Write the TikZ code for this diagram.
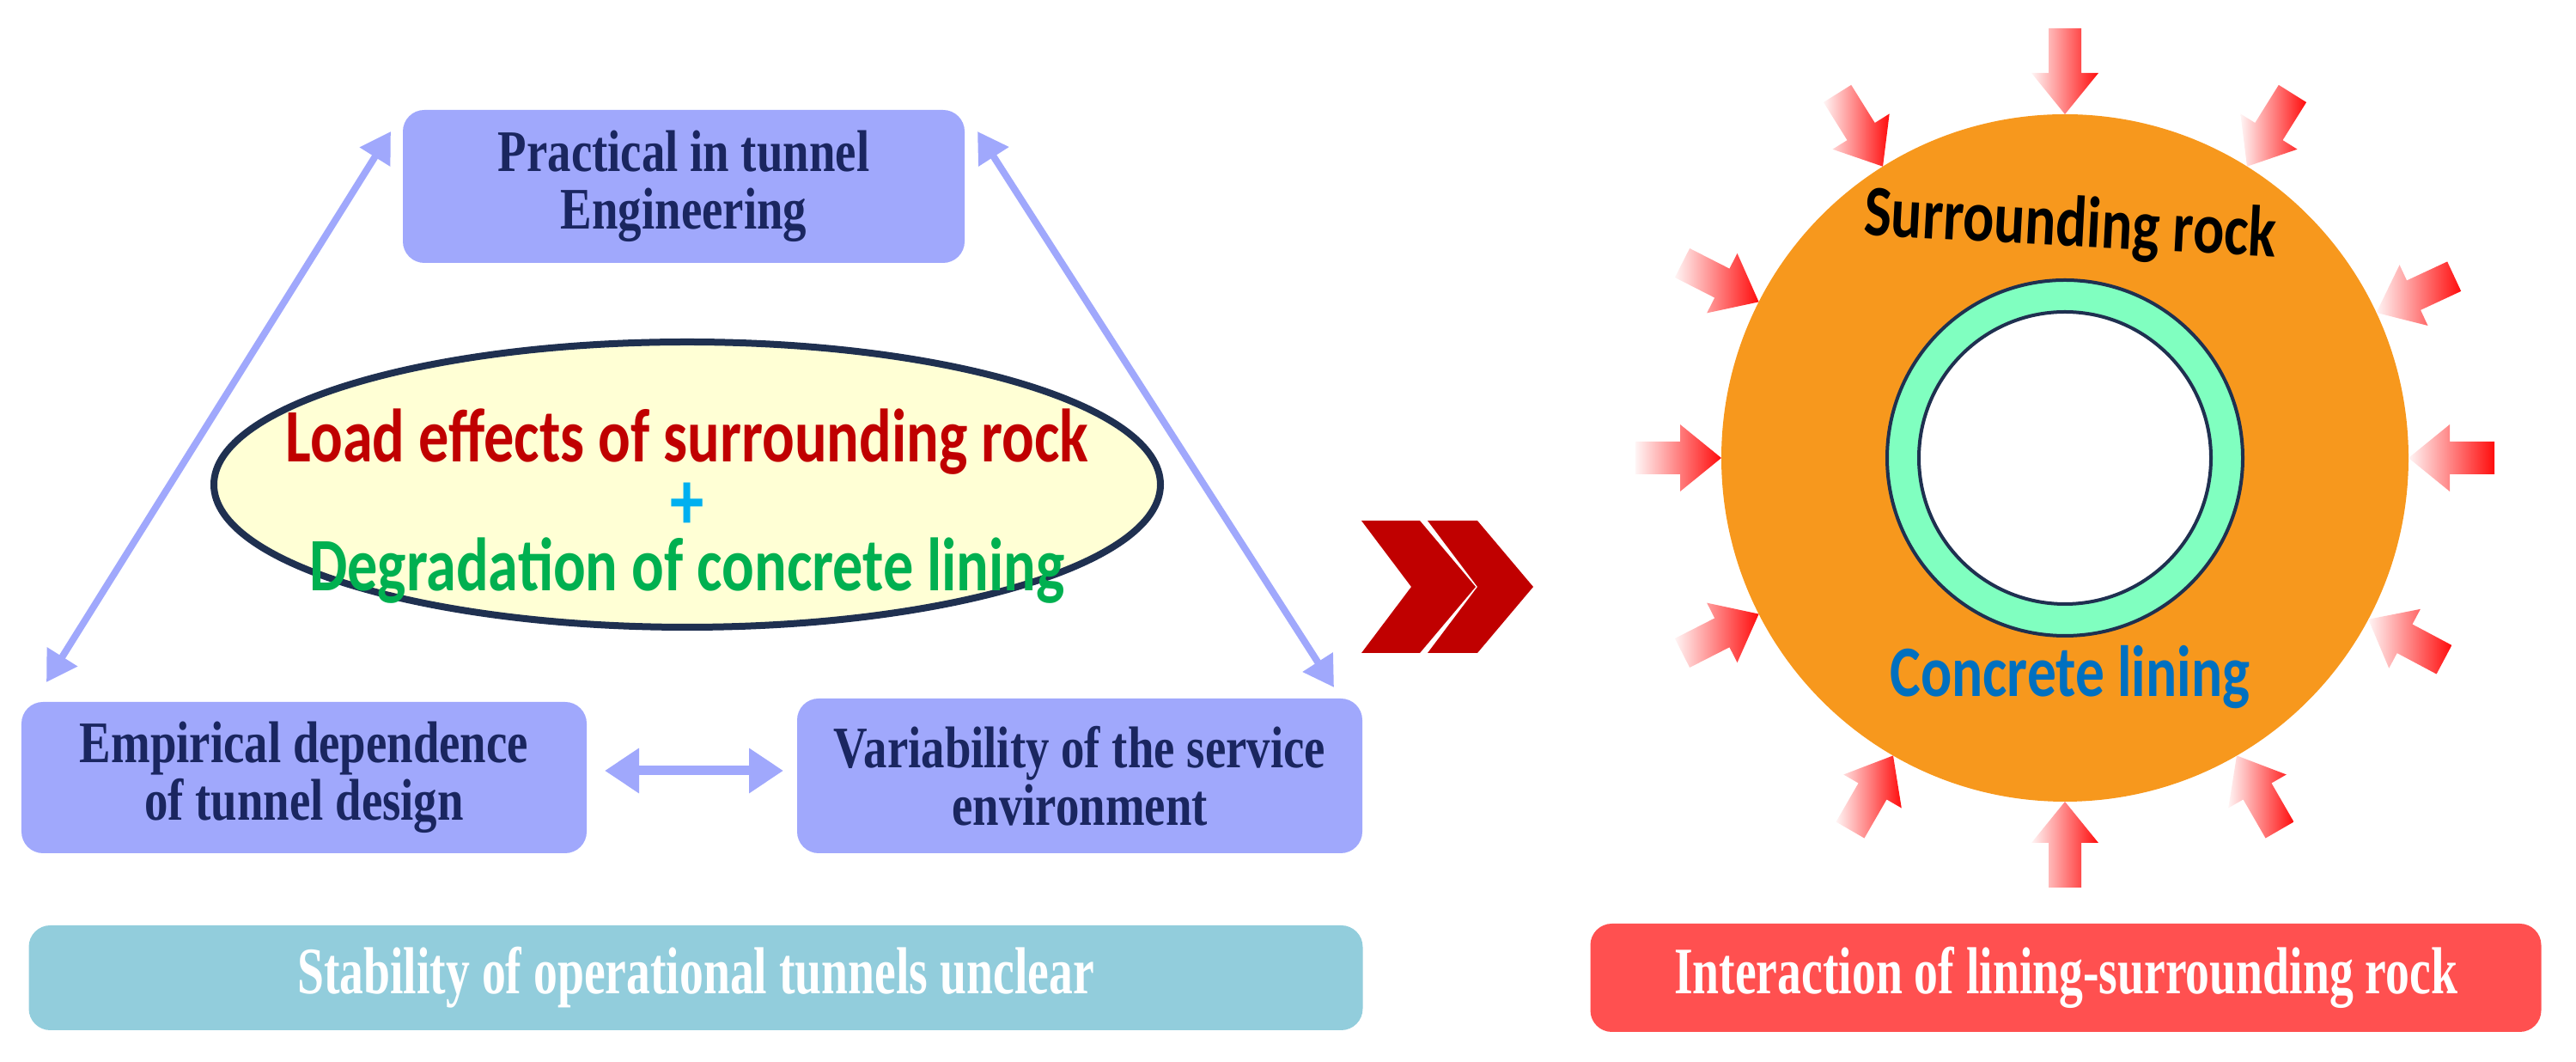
\documentclass[tikz,border=0pt]{standalone}
\usepackage{fontspec}
\setmainfont{Liberation Serif}
\newfontfamily\condserif{Liberation Serif}[FakeStretch=0.8]
\newfontfamily\bandserif{Liberation Serif}[FakeStretch=0.72]
\newfontfamily\condsans{Carlito}[FakeStretch=0.8]
\usetikzlibrary{arrows.meta,shapes.geometric}
\definecolor{lav}{HTML}{A0A8FC}
\definecolor{navy}{HTML}{1A2660}
\definecolor{teal}{HTML}{92CDDC}
\definecolor{redbox}{HTML}{FF5050}
\definecolor{orng}{HTML}{F7981D}
\definecolor{mint}{HTML}{80FFC0}
\definecolor{ellfill}{HTML}{FFFFD5}
\definecolor{ellline}{HTML}{1F3050}
\definecolor{chev}{HTML}{C00000}
\definecolor{dkred}{HTML}{C00000}
\definecolor{grn}{HTML}{00B050}
\definecolor{plus}{HTML}{00B0F0}
\definecolor{blu}{HTML}{0070C0}
\tikzset{
  box/.style={fill=lav, rounded corners=0.25cm, align=center, text=navy,
    font=\condserif\bfseries\fontsize{19.5}{19}\selectfont, inner sep=0pt},
  band/.style={rounded corners=0.25cm, align=center, text=white,
    font=\bandserif\bfseries\fontsize{22}{28}\selectfont, inner sep=0pt},
  conn/.style={lav, line width=0.08cm, {Triangle[width=0.4cm,length=0.35cm]}-{Triangle[width=0.4cm,length=0.35cm]}},
  hconn/.style={lav, line width=0.11cm, {Triangle[width=0.5cm,length=0.4cm]}-{Triangle[width=0.5cm,length=0.4cm]}},
  press/.style={left color=red!4, right color=red!95, draw=none},
  elltext/.style={font=\condsans\bfseries\fontsize{25}{30}\selectfont, inner sep=1pt}
}
\begin{document}
\begin{tikzpicture}
\useasboundingbox (0,0) rectangle (29.99,12.36);
% boxes
\node[box, minimum width=6.54cm, minimum height=1.78cm] (top) at (7.96,10.19) {Practical in tunnel\\Engineering};
\node[box, minimum width=6.58cm, minimum height=1.76cm] (left) at (3.54,3.31) {Empirical dependence\\of tunnel design};
\node[box, minimum width=6.58cm, minimum height=1.80cm] (right) at (12.57,3.33) {Variability of the service\\environment};
\node[band, fill=teal, minimum width=15.53cm, minimum height=1.22cm] (stab) at (8.10,0.98) {Stability of operational tunnels unclear};
\node[band, fill=redbox, minimum width=11.07cm, minimum height=1.26cm] (inter) at (24.05,0.98) {Interaction of lining-surrounding rock};
% ellipse
\node[ellipse, draw=ellline, line width=0.08cm, fill=ellfill, minimum width=11.02cm, minimum height=3.32cm, inner sep=0pt] (ell) at (8.00,6.72) {};
\node[elltext, text=dkred] (l1) at (8.0,7.22) {Load effects of surrounding rock};
\node[font=\condsans\bfseries\fontsize{28}{28}\selectfont, text=plus, inner sep=0pt] (pl) at (8.0,6.47) {+};
\node[elltext, text=grn] (l2) at (8.0,5.72) {Degradation of concrete lining};
% connectors
\coordinate (a1) at (4.55,10.83);
\coordinate (a2) at (0.54,4.42);
\coordinate (b1) at (11.38,10.83);
\coordinate (b2) at (15.53,4.36);
\coordinate (c1) at (7.04,3.39);
\coordinate (c2) at (9.12,3.39);
\draw[conn] (a1) -- (a2);
\draw[conn] (b1) -- (b2);
\draw[hconn] (c1) -- (c2);
% chevrons
\fill[chev] (15.85,6.30) -- (16.53,6.30) -- (17.18,5.53) -- (16.53,4.76) -- (15.85,4.76) -- (16.43,5.53) -- cycle;
\fill[chev] (16.62,6.30) -- (17.20,6.30) -- (17.85,5.53) -- (17.20,4.76) -- (16.62,4.76) -- (17.20,5.53) -- cycle;
% rock and lining
\coordinate (cc) at (24.04,7.03);
\fill[orng] (cc) circle (4.0);
\filldraw[fill=mint, draw=ellline, line width=0.04cm] (cc) circle (2.07);
\filldraw[fill=white, draw=ellline, line width=0.04cm] (cc) circle (1.70);
\node[font=\condsans\bfseries\fontsize{24}{30}\selectfont, rotate=-3] (sr) at (24.1,9.72) {Surrounding rock};
\node[font=\condsans\bfseries\fontsize{24}{30}\selectfont, text=blu] (cl) at (24.1,4.48) {Concrete lining};
% pressure arrows
\foreach \a in {90,58,25,0,-28,-60,-90,-120,-153,180,153,122}{
  \begin{scope}[shift={(cc)}, rotate=\a+180, shift={(-4.0,0)}]
    \shade[press] (-1.0,-0.19) -- (-0.48,-0.19) -- (-0.48,-0.39) -- (0,0) -- (-0.48,0.39) -- (-0.48,0.19) -- (-1.0,0.19) -- cycle;
  \end{scope}
}
\end{tikzpicture}
\end{document}
